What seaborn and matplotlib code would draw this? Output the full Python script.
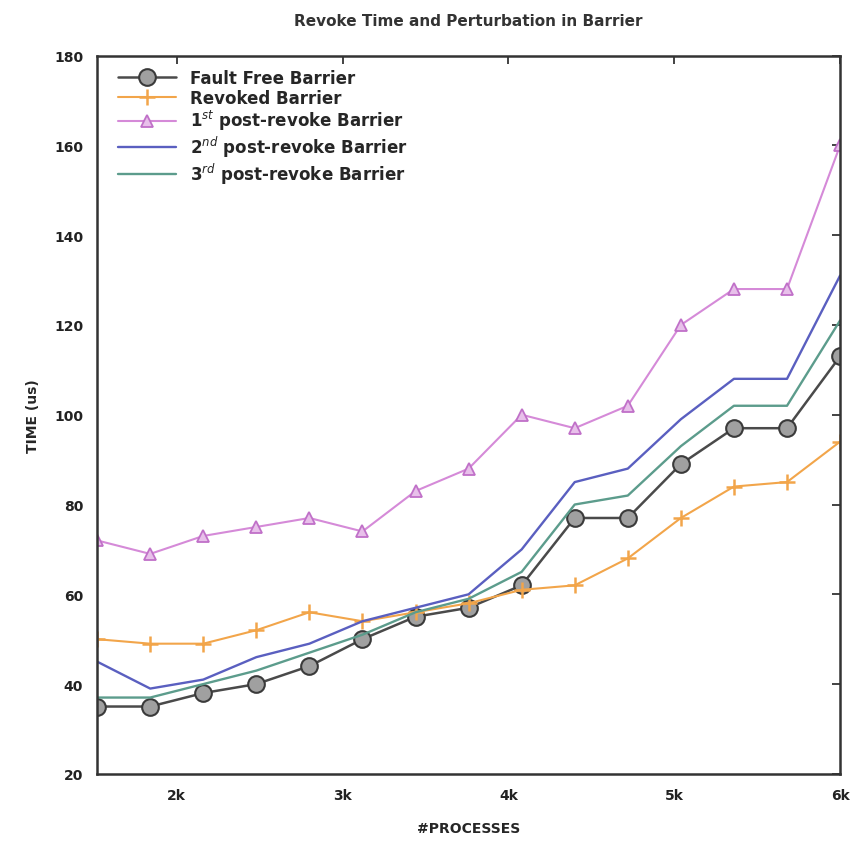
import matplotlib
matplotlib.use("Agg")
import matplotlib.pyplot as plt
import seaborn as sns
import pandas as pd

# Process counts along the x axis
processes = [1520, 1840, 2160, 2480, 2800, 3120, 3440, 3760, 4080, 4400,
             4720, 5040, 5360, 5680, 6000]

# Barrier completion time (us) for each configuration
fault_free = [35, 35, 38, 40, 44, 50, 55, 57, 62, 77, 77, 89, 97, 97, 113]
revoked = [50, 49, 49, 52, 56, 54, 56, 58, 61, 62, 68, 77, 84, 85, 94]
post_revoke_1 = [72, 69, 73, 75, 77, 74, 83, 88, 100, 97, 102, 120, 128, 128, 160]
post_revoke_2 = [45, 39, 41, 46, 49, 54, 57, 60, 70, 85, 88, 99, 108, 108, 131]
post_revoke_3 = [37, 37, 40, 43, 47, 51, 56, 59, 65, 80, 82, 93, 102, 102, 121]

labels = ["Fault Free Barrier", "Revoked Barrier",
          r"1$^{st}$ post-revoke Barrier", r"2$^{nd}$ post-revoke Barrier",
          r"3$^{rd}$ post-revoke Barrier"]
series = [fault_free, revoked, post_revoke_1, post_revoke_2, post_revoke_3]

x_ticks = [2000, 3000, 4000, 5000, 6000]
x_tick_labels = ["2k", "3k", "4k", "5k", "6k"]
y_ticks = [20, 40, 60, 80, 100, 120, 140, 160, 180]

styles = [
    dict(color="#4a4a4a", marker="o", markersize=12, markerfacecolor="#a0a0a0",
         markeredgecolor="#3a3a3a", markeredgewidth=1.5, linewidth=1.8,
         linestyle="-"),
    dict(color="#f2a54a", marker="+", markersize=12, markeredgecolor="#f2a54a",
         markeredgewidth=1.8, linewidth=1.5),
    dict(color="#d58ad8", marker="^", markersize=8, markerfacecolor="#e8c0ea",
         markeredgecolor="#c070c8", markeredgewidth=1.3, linewidth=1.5),
    dict(color="#5a5fc0", marker=None, linewidth=1.7),
    dict(color="#5c9c8c", marker=None, linewidth=1.7),
]

sns.set_theme(style="white")
plt.rcParams["font.family"] = ["DejaVu Sans"]

fig = plt.figure(figsize=(8.52, 8.45), dpi=100)
ax = fig.add_axes([0.114, 0.083, 0.872, 0.85])

for vals, lab, st in zip(series, labels, styles):
    df = pd.DataFrame({"processes": processes, "time": vals})
    sns.lineplot(data=df, x="processes", y="time", ax=ax, label=lab, **st)

ax.set_xlim(processes[0], processes[-1])
ax.set_ylim(20, 180)
ax.set_xticks(x_ticks)
ax.set_xticklabels(x_tick_labels)
ax.set_yticks(y_ticks)
ax.tick_params(direction="in", length=6, width=1.2, labelsize=10, colors="#222222",
               top=True, right=True, pad=10)
for lbl in ax.get_xticklabels() + ax.get_yticklabels():
    lbl.set_fontweight("bold")
for sp in ax.spines.values():
    sp.set_color("#333333")
    sp.set_linewidth(1.8)

ax.set_title("Revoke Time and Perturbation in Barrier", fontsize=11,
             fontweight="bold", pad=22, color="#333333")
ax.set_xlabel("#PROCESSES", fontsize=10, fontweight="bold", labelpad=14)
ax.set_ylabel("TIME (us)", fontsize=10, fontweight="bold", labelpad=10)

ax.legend(loc="upper left", frameon=False, fontsize=12, handlelength=3.5,
          labelspacing=0.1, borderaxespad=0.4, bbox_to_anchor=(0.01, 1.0),
          prop={"weight": "bold", "size": 12})

fig.savefig("out.png", dpi=100)
